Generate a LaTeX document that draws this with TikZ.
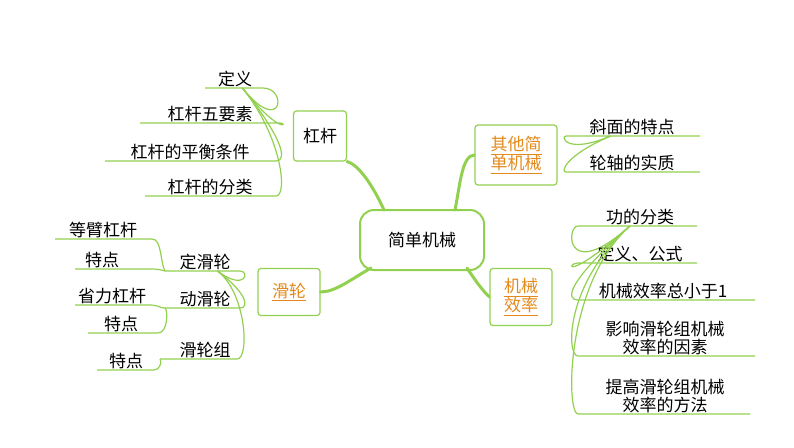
\documentclass[tikz,border=0pt]{standalone}
\usepackage{fontspec}
\setmainfont{Noto Sans CJK SC}
\definecolor{gr}{HTML}{92D050}
\definecolor{orn}{HTML}{E48A1C}
\begin{document}
\begin{tikzpicture}[x=1pt,y=-1pt,
  t/.style={font=\fontsize{17}{21}\selectfont,inner sep=1pt,align=center},
  ln/.style={gr,line width=1.2pt},
  th/.style={gr,line width=3pt,line cap=round},
  bx/.style={draw=gr,line width=1.2pt,rounded corners=3pt,fill=white,font=\fontsize{17}{21}\selectfont,align=center},
  ou/.style={text=orn}]
\useasboundingbox (0,0) rectangle (794,447);
% boxes
\node[bx,line width=2pt,rounded corners=14pt,minimum width=124,minimum height=60] (root) at (422,240) {简单机械};
\node[bx,minimum width=53,minimum height=50] (gg) at (320,136) {杠杆};
\node[bx,ou,minimum width=82,minimum height=60,inner sep=2pt] (qt) at (516,155) {\underline{其他简}\\[-2pt]\underline{单机械}};
\node[bx,ou,minimum width=62,minimum height=47] (hl) at (289,292) {\underline{滑轮}};
\node[bx,ou,minimum width=62,minimum height=57,inner sep=2pt] (jx) at (521,297) {\underline{机械}\\[-2pt]\underline{效率}};
% thick links
\draw[th] (root.north west)++(25,1) coordinate (r1) .. controls (375,190) and (360,165) .. (gg.south east);
\draw[th] (root.north east)++(-30,1) coordinate (r2) .. controls (460,185) and (462,155) .. (qt.west);
\draw[th] (root.south west)++(12,-3) coordinate (r3) .. controls (350,280) and (335,292) .. (hl.east);
\draw[th] (root.south east)++(-18,-3) coordinate (r4) .. controls (475,280) and (482,290) .. (jx.west);
% left of gg
\coordinate (ga) at (gg.west);
\foreach \n/\txt/\tx/\xl/\xr/\yy in {a/定义/235/205/263/88, b/杠杆五要素/210/140/280/123, c/杠杆的平衡条件/190/105/276/161, d/杠杆的分类/210/145/276/196}{
  \node[t,anchor=south] (g\n) at (\tx,\yy) {\txt};
  \coordinate (g\n r) at (\xr,\yy); \coordinate (g\n l) at (\xl,\yy);
  \draw[ln] (ga) .. controls (282,137) and (288,\yy) .. (g\n r) -- (g\n l);
}
% right of qt
\coordinate (qa) at (qt.east);
\foreach \n/\txt/\yy in {a/斜面的特点/136, b/轮轴的实质/172}{
  \node[t,anchor=south] (q\n) at (632,\yy) {\txt};
  \coordinate (q\n l) at (566,\yy); \coordinate (q\n r) at (700,\yy);
  \draw[ln] (qa) .. controls (566,155) and (560,\yy) .. (q\n l) -- (q\n r);
}
% right of jx
\coordinate (ja) at (552,284);
\foreach \n/\txt/\tx/\xr/\yy in {a/功的分类/640/697/226, b/定义、公式/640/697/263, c/机械效率总小于1/663/755/300, d/影响滑轮组机械\\[-3pt]效率的因素/665/755/356, e/提高滑轮组机械\\[-3pt]效率的方法/665/750/414}{
  \node[t,anchor=south] (j\n) at (\tx,\yy) {\txt};
  \coordinate (j\n l) at (578,\yy); \coordinate (j\n r) at (\xr,\yy);
  \draw[ln] (ja) .. controls (565,284) and (566,\yy) .. (j\n l) -- (j\n r);
}
% left of hl
\coordinate (ha) at (hl.west);
\foreach \n/\txt/\xl/\xr/\yy in {a/定滑轮/165/240/271, b/动滑轮/165/240/308, c/滑轮组/160/237/359}{
  \node[t,anchor=south] (h\n) at (205,\yy) {\txt};
  \coordinate (h\n l) at (\xl,\yy); \coordinate (h\n r) at (\xr,\yy);
  \draw[ln] (ha) .. controls (246,292) and (250,\yy) .. (h\n r) -- (h\n l);
}
% sub items
\node[t,anchor=south] (s1) at (103,239) {等臂杠杆};
\coordinate (s1l) at (55,239); \coordinate (s1r) at (152,239);
\draw[ln] (hal) .. controls (160,262) and (162,239) .. (s1r) -- (s1l);
\node[t,anchor=south] (s2) at (102,269) {特点};
\coordinate (s2l) at (75,269); \coordinate (s2r) at (150,269);
\draw[ln] (hal) .. controls (162,270) and (158,269) .. (s2r) -- (s2l);
\node[t,anchor=south] (s3) at (112,305) {省力杠杆};
\coordinate (s3l) at (75,305); \coordinate (s3r) at (150,305);
\draw[ln] (hbl) .. controls (160,308) and (158,305) .. (s3r) -- (s3l);
\node[t,anchor=south] (s4) at (121,333) {特点};
\coordinate (s4l) at (88,333); \coordinate (s4r) at (158,333);
\draw[ln] (hbl) .. controls (168,310) and (168,333) .. (s4r) -- (s4l);
\node[t,anchor=south] (s5) at (126,370) {特点};
\coordinate (s5l) at (97,370); \coordinate (s5r) at (154,370);
\draw[ln] (hcl) .. controls (162,362) and (160,370) .. (s5r) -- (s5l);
\end{tikzpicture}
\end{document}
